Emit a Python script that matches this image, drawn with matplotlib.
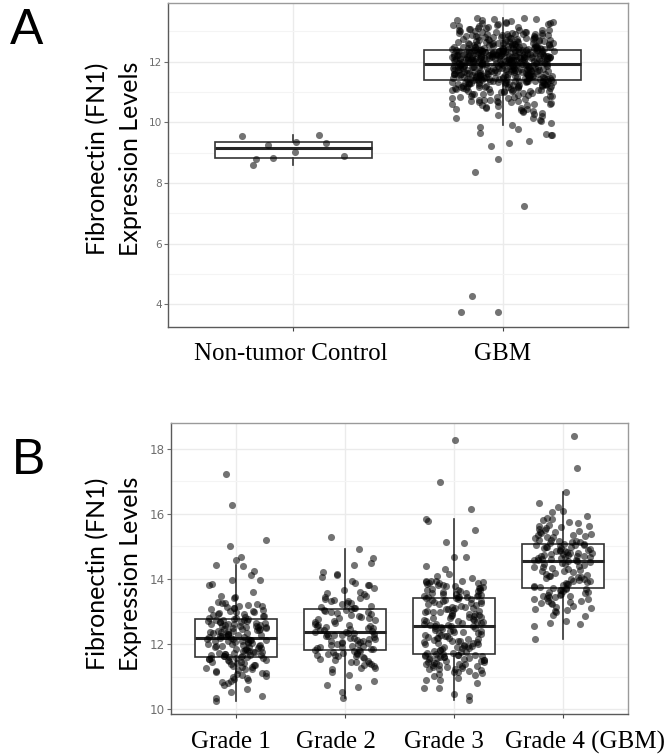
import numpy as np
import matplotlib
matplotlib.use("Agg")
import matplotlib.pyplot as plt
from matplotlib.ticker import MultipleLocator

# ---------------- data ----------------
panel_a_groups = ["Non-tumor Control", "GBM"]

non_tumor = [9.54, 8.88, 9.60, 9.27, 9.02, 9.36, 8.82, 9.32, 8.61, 8.78]

gbm = [
    # lower quarter (incl. low outliers)
    3.74, 8.78, 4.29, 7.23, 9.57, 9.58, 9.37, 9.66, 9.32, 9.93, 9.23, 9.62, 8.36, 9.84, 3.74, 9.77,
    9.99, 10.14, 10.03, 10.23, 10.14, 10.31, 10.45, 10.52, 10.38, 10.27, 10.49, 10.56, 10.41, 10.60,
    10.33, 10.47, 10.58, 10.21, 10.36, 10.55, 10.09, 10.44,
    10.62, 10.71, 10.85, 10.66, 10.93, 10.78, 10.99, 10.68, 10.81, 10.74, 10.90, 10.64, 10.87, 10.96,
    10.72, 10.83, 10.69, 10.95, 10.77, 10.88, 10.61, 10.98, 10.75, 10.84, 10.91, 10.67, 10.79, 10.94,
    10.73, 10.86,
    11.02, 11.15, 11.31, 11.08, 11.24, 11.37, 11.11, 11.28, 11.05, 11.19, 11.34, 11.22, 11.01, 11.36,
    11.13, 11.27, 11.09, 11.33, 11.17, 11.25, 11.38, 11.04, 11.21, 11.30, 11.12, 11.35, 11.07, 11.26,
    11.18, 11.32, 11.03, 11.23, 11.14, 11.29, 11.36, 11.10, 11.20, 11.38, 11.06, 11.33, 11.16, 11.27,
    11.34, 11.00, 11.24, 11.37, 11.12, 11.29, 11.19, 11.31, 11.08, 11.26, 11.35, 11.15, 11.22, 11.38,
    11.05, 11.30, 11.17, 11.36, 11.28, 11.11, 11.33, 11.21,
    # second quarter
    11.40, 11.62, 11.85, 11.47, 11.73, 11.55, 11.91, 11.43, 11.68, 11.80, 11.51, 11.77,
    11.59, 11.88, 11.44, 11.70, 11.63, 11.82, 11.49, 11.75, 11.57, 11.92, 11.41, 11.66,
    11.84, 11.53, 11.78, 11.46, 11.71, 11.60, 11.89, 11.42, 11.67, 11.81, 11.54, 11.74,
    11.50, 11.86, 11.45, 11.69, 11.58, 11.83, 11.48, 11.76, 11.61, 11.90, 11.52, 11.72,
    11.64, 11.87, 11.39, 11.79, 11.56, 11.93, 11.44, 11.65, 11.82, 11.50, 11.73, 11.60,
    11.85, 11.47, 11.70, 11.57, 11.91, 11.42, 11.68, 11.79, 11.53, 11.76, 11.46, 11.88,
    11.62, 11.74, 11.49, 11.84, 11.55, 11.71, 11.41, 11.80, 11.59, 11.90, 11.45, 11.67,
    11.77, 11.52, 11.86, 11.63, 11.43, 11.75, 11.58, 11.92, 11.48, 11.69, 11.81, 11.54,
    11.72, 11.40, 11.87, 11.61, 11.78, 11.51, 11.66, 11.83, 11.44, 11.89, 11.56, 11.73,
    11.64, 11.47, 11.79, 11.60, 11.85, 11.50, 11.70, 11.57, 11.91, 11.42, 11.76, 11.65,
    11.82, 11.53, 11.68, 11.46, 11.88, 11.59, 11.74, 11.49, 11.80, 11.62, 11.93, 11.55,
    # third quarter
    12.05, 12.28, 11.97, 12.15, 12.33, 12.09, 12.22, 11.95, 12.36, 12.12, 12.19, 12.02,
    12.30, 12.07, 12.25, 11.99, 12.17, 12.34, 12.10, 12.21, 12.04, 12.31, 12.13, 11.94,
    12.26, 12.08, 12.35, 12.18, 12.01, 12.23, 12.14, 12.29, 11.96, 12.20, 12.06, 12.32,
    12.11, 12.27, 12.03, 12.16, 12.37, 12.00, 12.24, 12.09, 12.33, 11.98, 12.19, 12.12,
    12.29, 12.05, 12.22, 12.35, 12.14, 11.95, 12.26, 12.08, 12.17, 12.31, 12.02, 12.20,
    12.11, 12.34, 12.06, 12.24, 11.99, 12.15, 12.28, 12.04, 12.36, 12.13, 12.21, 11.97,
    12.27, 12.10, 12.18, 12.32, 12.01, 12.23, 12.07, 12.30, 12.16, 11.94, 12.25, 12.12,
    12.35, 12.03, 12.19, 12.09, 12.33, 12.00, 12.22, 12.14, 12.29, 11.96, 12.17, 12.06,
    12.26, 12.11, 12.37, 12.04, 12.20, 12.31, 12.08, 12.24, 11.98, 12.15, 12.34, 12.02,
    12.21, 12.13, 12.28, 12.05, 12.18, 12.36, 12.10, 12.25, 11.95, 12.32, 12.07, 12.16,
    12.30, 12.01, 12.23, 12.12, 12.27, 11.99, 12.19, 12.09, 12.35, 12.14, 12.22, 12.03,
    # upper quarter
    12.41, 12.78, 13.12, 12.52, 12.95, 12.46, 13.26, 12.63, 12.88, 12.39, 13.05, 12.71,
    12.57, 13.33, 12.44, 12.82, 12.66, 13.18, 12.49, 12.92, 12.38, 12.75, 13.40, 12.60,
    12.85, 12.43, 13.02, 12.69, 12.54, 13.22, 12.40, 12.80, 12.98, 12.47, 12.64, 13.45,
    12.56, 12.90, 12.42, 13.09, 12.73, 12.50, 13.30, 12.61, 12.84, 12.39, 12.96, 12.67,
    13.15, 12.45, 12.77, 12.58, 13.42, 12.41, 12.87, 12.53, 13.03, 12.70, 12.48, 13.24,
    12.62, 12.93, 12.44, 12.81, 12.55, 13.36, 12.40, 12.74, 12.99, 12.51, 12.65, 13.11,
    12.46, 12.86, 12.59, 13.28, 12.43, 12.79, 12.68, 13.06, 12.38, 12.91, 12.57, 13.20,
    12.49, 12.76, 12.63, 13.38, 12.42, 12.83, 12.54, 13.01, 12.72, 12.47, 13.14, 12.60,
    12.89, 12.40, 12.97, 12.66, 13.32, 12.52, 12.78, 12.45, 13.08, 12.58, 12.85, 12.41,
    13.25, 12.69, 12.50, 12.94, 12.62, 13.17, 12.44, 12.80, 12.56, 13.43, 12.48, 12.73,
    12.99, 12.39, 12.87, 12.64, 13.29, 12.53, 12.76, 12.46, 13.04, 12.61, 12.90, 12.43,
]

panel_b_groups = ["Grade 1", "Grade 2", "Grade 3", "Grade 4 (GBM)"]

grade1 = [
    10.26, 10.36, 10.42, 10.52, 10.62, 10.91, 10.93, 11.10, 10.85, 10.74, 11.45, 11.22, 11.58, 11.03, 11.37,
    11.51, 10.97, 11.29, 11.60, 11.14, 11.42, 11.06, 11.33, 11.55, 10.88, 11.19, 11.48, 11.26, 11.61, 11.09,
    11.39, 11.53, 10.99, 11.31, 11.57, 11.17, 11.44, 11.24, 11.59, 10.80, 11.35, 11.50, 11.12, 11.41, 11.56,
    11.63, 11.95, 12.12, 11.74, 12.04, 11.82, 12.18, 11.68, 11.90, 12.08, 11.77, 11.99, 12.15, 11.65, 11.86,
    12.01, 11.71, 12.10, 11.93, 11.79, 12.17, 11.66, 11.88, 12.06, 11.75, 11.97, 12.13, 11.69, 11.84, 12.03,
    11.80, 12.19, 11.64, 11.92, 12.09, 11.73, 11.98, 12.14, 11.83, 11.62, 12.05, 11.89, 11.76, 12.16, 11.95,
    12.22, 12.48, 12.71, 12.33, 12.59, 12.26, 12.65, 12.41, 12.53, 12.74, 12.29, 12.44, 12.62, 12.37, 12.56,
    12.24, 12.69, 12.46, 12.31, 12.58, 12.73, 12.39, 12.51, 12.27, 12.64, 12.43, 12.35, 12.67, 12.55, 12.21,
    12.49, 12.72, 12.32, 12.61, 12.45, 12.28, 12.57, 12.40, 12.68, 12.52, 12.25, 12.63, 12.36, 12.47, 12.75,
    16.27, 17.23, 15.19, 15.02, 14.67, 14.59, 14.43, 14.39, 14.24, 14.11, 13.97, 13.98, 13.83, 13.80, 13.60,
    13.49, 13.45, 13.40, 13.30, 12.78, 13.05, 12.86, 13.21, 12.93, 13.12, 12.81, 13.27, 12.97, 13.08, 12.89,
    13.16, 12.77, 13.01, 13.24, 12.84, 12.95, 13.18, 12.91, 13.10, 12.80, 13.03, 12.99, 13.14, 12.87, 13.25,
]

grade2 = [
    10.33, 10.52, 10.75, 10.69, 10.87, 11.27, 11.27, 11.22, 11.05, 11.45, 11.62, 11.38, 11.71, 11.15, 11.54,
    11.78, 11.33, 11.66, 11.48, 11.74, 11.59, 11.41, 11.80, 11.51, 11.69, 11.36, 11.63, 11.77, 11.44, 11.56,
    11.73, 11.68,
    11.83, 12.15, 11.95, 12.28, 12.04, 11.88, 12.21, 12.33, 11.92, 12.10, 12.26, 11.86, 12.01, 12.18, 12.35,
    11.97, 12.07, 12.30, 11.84, 12.13, 12.24, 11.90, 12.02, 12.32, 11.99, 12.17, 11.82, 12.09, 12.27, 11.94,
    12.20, 12.05,
    12.38, 12.71, 12.95, 12.52, 12.84, 12.44, 13.02, 12.63, 12.90, 12.40, 12.77, 12.57, 13.06, 12.48, 12.68,
    12.99, 12.37, 12.81, 12.55, 12.92, 12.46, 12.74, 13.04, 12.60, 12.87, 12.42, 12.65, 12.97, 12.50, 12.79,
    13.08, 12.58,
    15.29, 14.93, 14.65, 14.49, 14.43, 14.20, 14.14, 14.12, 14.07, 13.95, 13.80, 13.82, 13.10, 13.45, 13.22,
    13.66, 13.31, 13.54, 13.14, 13.38, 13.71, 13.27, 13.49, 13.18, 13.60, 13.35, 13.12, 13.42, 13.25, 13.57,
    13.33, 13.88,
]

grade3 = [
    10.28, 10.41, 10.46, 10.65, 10.65, 10.91, 10.91, 11.13, 11.05, 10.82, 11.38, 11.57, 11.22, 11.66, 11.31,
    11.49, 11.08, 11.61, 11.35, 11.18, 11.53, 11.43, 11.64, 11.27, 11.46, 11.58, 11.11, 11.40, 11.62, 11.25,
    11.51, 11.34, 11.68, 11.02, 11.44, 11.56, 11.29, 11.60, 11.37, 11.20, 11.48, 11.65, 11.15, 11.42, 11.55,
    11.33, 11.67, 10.97, 11.39, 11.59, 11.23, 11.50,
    11.72, 12.15, 11.93, 12.38, 12.05, 11.81, 12.47, 12.22, 11.76, 12.00, 12.31, 11.88, 12.52, 12.10, 11.97,
    12.42, 11.74, 12.26, 12.08, 11.85, 12.35, 12.18, 11.91, 12.50, 12.02, 11.79, 12.29, 12.13, 11.95, 12.44,
    11.71, 12.20, 12.06, 11.83, 12.39, 12.24, 11.99, 12.54, 11.87, 12.11, 12.33, 11.77, 12.16, 12.48, 11.90,
    12.27, 12.03, 11.70, 12.40, 12.19, 11.94, 12.36,
    12.58, 13.02, 12.81, 13.29, 12.66, 13.14, 12.93, 13.38, 12.71, 12.60, 13.08, 12.87, 13.22, 12.76, 13.35,
    12.63, 12.98, 13.17, 12.84, 13.41, 12.69, 13.05, 12.91, 13.26, 12.57, 12.79, 13.11, 13.33, 12.73, 12.95,
    13.19, 12.62, 12.88, 13.39, 12.67, 13.00, 13.24, 12.82, 12.56, 13.07, 13.31, 12.75, 12.90, 13.15, 12.64,
    13.36, 12.86, 13.03, 12.70, 13.27, 12.97, 13.12,
    18.26, 16.96, 16.16, 15.85, 15.79, 15.49, 15.13, 15.10, 14.67, 14.67, 14.39, 14.31, 14.15, 14.10, 14.02,
    13.95, 13.95, 13.95, 13.93, 13.90, 13.44, 13.71, 13.55, 13.86, 13.48, 13.63, 13.79, 13.52, 13.91, 13.67,
    13.43, 13.75, 13.58, 13.84, 13.46, 13.69, 13.60, 13.88, 13.50, 13.77, 13.65, 13.42, 13.82, 13.57, 13.73,
    13.47, 13.62, 13.89, 13.53, 13.80, 13.66, 13.45,
]

grade4 = [
    12.17, 12.55, 12.61, 12.66, 12.71, 13.04, 12.90, 12.85, 13.25, 13.48, 13.12, 13.62, 13.33, 13.56, 13.18,
    13.41, 13.68, 13.29, 13.52, 13.08, 13.45, 13.65, 13.22, 13.37, 13.59, 13.14, 13.50, 13.70, 13.31, 12.97,
    13.43, 13.60, 13.27, 13.54, 13.02, 13.39, 13.66, 13.47,
    13.72, 14.15, 13.93, 14.42, 14.05, 13.81, 14.51, 14.23, 13.76, 14.00, 14.33, 13.88, 14.47, 14.10, 13.97,
    14.38, 13.74, 14.27, 14.08, 13.85, 14.54, 14.18, 13.91, 14.45, 14.02, 13.79, 14.30, 14.13, 13.95, 14.40,
    13.71, 14.21, 14.06, 13.83, 14.36, 14.25, 13.99, 14.49,
    14.58, 14.87, 14.72, 15.01, 14.63, 14.94, 14.79, 15.06, 14.60, 14.83, 14.69, 14.98, 14.75, 14.56, 14.90,
    15.04, 14.66, 14.81, 14.96, 14.71, 15.08, 14.62, 14.85, 14.77, 14.99, 14.59, 14.92, 14.68, 15.03, 14.74,
    14.88, 14.64, 14.97, 14.80, 14.57, 15.05, 14.70, 14.86,
    18.38, 17.42, 16.66, 16.33, 16.20, 16.08, 16.05, 15.92, 15.88, 15.85, 15.80, 15.12, 15.45, 15.28, 15.63,
    15.17, 15.36, 15.55, 15.21, 15.72, 15.40, 15.10, 15.50, 15.31, 15.67, 15.15, 15.43, 15.25, 15.58, 15.34,
    15.76, 15.19, 15.48, 15.38, 15.61, 15.13, 15.53, 15.30,
]

y_label = "Fibronectin (FN1)\nExpression Levels"

# ---------------- style ----------------
W, H = 668, 755
fig = plt.figure(figsize=(W / 100, H / 100), dpi=100)

GRID_MAJOR = "#ebebeb"
GRID_MINOR = "#f4f4f4"
TICK_COLOR = "#6e6e6e"


def spread(n, width, phase):
    """Deterministic horizontal spread (quadratic Weyl sequence) for a strip of points."""
    k = np.arange(n, dtype=float)
    frac = (0.5 * k * k * 0.7548776662 + k * 0.6180339887 + phase) % 1.0
    return (frac - 0.5) * 2.0 * width


def draw_panel(ax, groups, series, jitter_w, phases, tick_fs, dot_size, label_dx, label_dy):
    positions = np.arange(1, len(groups) + 1)
    all_vals = np.concatenate([np.asarray(s, float) for s in series])
    lo, hi = all_vals.min(), all_vals.max()
    pad = 0.05 * (hi - lo)
    ax.set_ylim(lo - pad, hi + pad)
    ax.set_xlim(0.4, len(groups) + 0.6)

    ax.boxplot(series, positions=positions, widths=0.75, showfliers=False,
               patch_artist=True, whis=1.5,
               boxprops=dict(facecolor="white", edgecolor="#333333", linewidth=1.2),
               medianprops=dict(color="#262626", linewidth=2.2),
               whiskerprops=dict(color="#333333", linewidth=1.2),
               capprops=dict(linewidth=0), zorder=2)

    for pos, vals, ph in zip(positions, series, phases):
        vals = np.asarray(vals, float)
        xs = pos + spread(len(vals), jitter_w, ph)
        ax.scatter(xs, vals, s=dot_size, color="black", alpha=0.55,
                   linewidths=0, zorder=3)

    ax.set_xticks(positions)
    ax.set_xticklabels([])
    for pos, name, dx in zip(positions, groups, label_dx):
        ax.annotate(name, xy=(pos, 0), xycoords=("data", "axes fraction"),
                    xytext=(dx, -label_dy), textcoords="offset pixels",
                    ha="center", va="center", family="Liberation Serif",
                    fontsize=18, color="black", annotation_clip=False)

    ax.yaxis.set_major_locator(MultipleLocator(2))
    ax.yaxis.set_minor_locator(MultipleLocator(1))
    ax.tick_params(axis="y", which="major", labelsize=tick_fs, labelcolor=TICK_COLOR,
                   color=TICK_COLOR, length=3, width=0.8, pad=1.5)
    ax.tick_params(axis="y", which="minor", length=0)
    ax.tick_params(axis="x", which="major", length=3, width=0.8, color="#444444")

    ax.grid(True, which="major", color=GRID_MAJOR, linewidth=1.0, zorder=0)
    ax.grid(True, which="minor", axis="y", color=GRID_MINOR, linewidth=0.8, zorder=0)
    ax.set_axisbelow(True)

    for side in ("top", "right"):
        ax.spines[side].set_color("#9a9a9a")
        ax.spines[side].set_linewidth(1.0)
    for side in ("left", "bottom"):
        ax.spines[side].set_color("#5a5a5a")
        ax.spines[side].set_linewidth(1.0)


# Panel A
ax_a = fig.add_axes([168 / W, 1 - 327 / H, (628 - 168) / W, (327 - 3) / H])
draw_panel(ax_a, panel_a_groups, [non_tumor, gbm], 0.245, [0.0, 0.46], 7.6, 26,
           label_dx=[-3, 0], label_dy=27)

# Panel B
ax_b = fig.add_axes([171 / W, 1 - 714 / H, (628 - 171) / W, (714 - 423) / H])
draw_panel(ax_b, panel_b_groups, [grade1, grade2, grade3, grade4], 0.28,
           [0.17, 0.46, 0.75, 0.04], 8.6, 26,
           label_dx=[-5, -9, -10, 22], label_dy=28)

# axis titles, placed in figure pixels
label_font = ["Lato", "DejaVu Sans"]
fig.text(114 / W, 1 - 159 / H, y_label, rotation=90, ha="center", va="center",
         family=label_font, fontsize=18, linespacing=1.55)
fig.text(114 / W, 1 - 574 / H, y_label, rotation=90, ha="center", va="center",
         family=label_font, fontsize=18, linespacing=1.55)

# panel letters
fig.text(10 / W, 1 - 8 / H, "A", ha="left", va="top", family="Liberation Sans", fontsize=36)
fig.text(12 / W, 1 - 438 / H, "B", ha="left", va="top", family="Liberation Sans", fontsize=36)

fig.savefig("out.png", dpi=100)
